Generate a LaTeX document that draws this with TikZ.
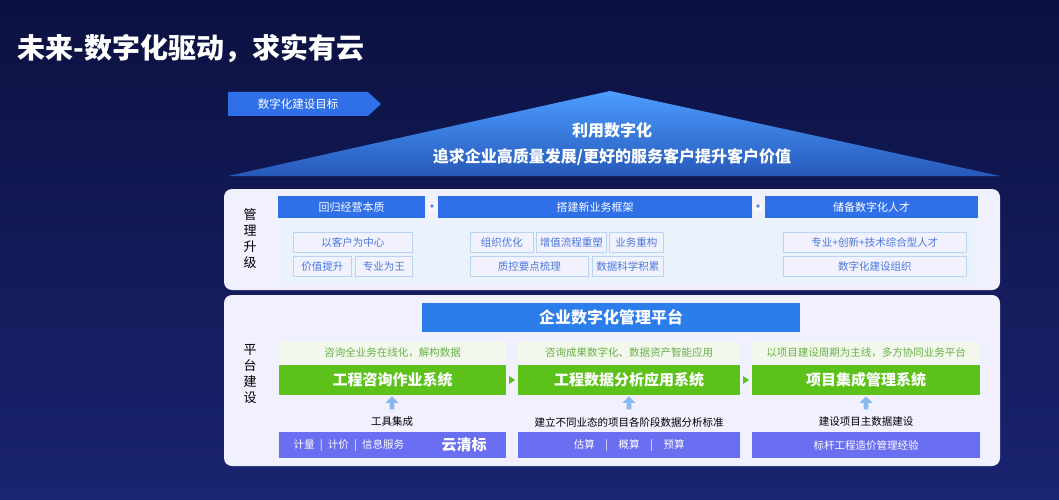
\documentclass[tikz,border=0pt]{standalone}
\usepackage{fontspec}
\setmainfont{Noto Sans CJK SC}
\usetikzlibrary{shapes.arrows,shapes.symbols}
\definecolor{navy}{HTML}{0B1140}
\definecolor{navy2}{HTML}{1A2470}
\definecolor{hblue}{HTML}{2F6FE8}
\definecolor{lblue}{HTML}{EAF2FC}
\definecolor{obox}{HTML}{B9D3F3}
\definecolor{tblue}{HTML}{4A78D8}
\definecolor{gbar}{HTML}{5CC21A}
\definecolor{gtext}{HTML}{6AB04A}
\definecolor{lgreen}{HTML}{F2F9EC}
\definecolor{purp}{HTML}{6A6EF0}
\definecolor{uparr}{HTML}{8AB8F0}
\tikzset{
 panel/.style={fill=white!94!blue, rounded corners=8pt, draw=none},
 hbar/.style={fill=hblue, text=white, font=\fontsize{11}{11}\selectfont, inner sep=0pt, anchor=north west},
 sub/.style={draw=obox, fill=white!95!blue, line width=0.8pt, text=tblue, font=\fontsize{10.5}{11}\selectfont, inner sep=0pt, anchor=north west},
 gb/.style={fill=gbar, text=white, font=\bfseries\fontsize{15}{15}\selectfont, inner sep=0pt, anchor=north west},
 gt/.style={fill=lgreen, text=gtext, font=\fontsize{10.5}{11}\selectfont, inner sep=0pt, anchor=north west},
 pb/.style={fill=purp, text=white, font=\fontsize{10.5}{11}\selectfont, inner sep=0pt, anchor=north west},
 captext/.style={text=black, font=\fontsize{10.5}{11}\selectfont},
 ua/.style={single arrow, shape border rotate=90, fill=uparr, minimum height=13pt, minimum width=13pt, single arrow head extend=2pt, inner sep=1pt},
 vlab/.style={align=center, font=\fontsize{13}{16}\selectfont, text=black},
 plus/.style={circle, fill=white, text=hblue, inner sep=0pt, minimum size=9pt, font=\bfseries\fontsize{8}{8}\selectfont},
}
\begin{document}
\begin{tikzpicture}[x=1pt,y=-1pt]
\useasboundingbox (0,0) rectangle (1059,500);
\shade[top color=navy, bottom color=navy2] (0,0) rectangle (1059,500);
\node[anchor=west, text=white, font=\bfseries\fontsize{28}{28}\selectfont] (title) at (14,48) {未来-数字化驱动，求实有云};
% roof
\shade[top color=blue!55!cyan!70!white, bottom color=hblue!80!black] (228,176) -- (610,91) -- (1000,176) -- cycle;
\node[text=white, font=\bfseries\fontsize{16}{16}\selectfont] (r1) at (612,130) {利用数字化};
\node[text=white, font=\bfseries\fontsize{16}{16}\selectfont] (r2) at (612,157) {追求企业高质量发展/更好的服务客户提升客户价值};
\fill[hblue] (228,92) -- (368,92) -- (381,104) -- (368,116) -- (228,116) -- cycle;
\node[text=white, font=\fontsize{11.5}{12}\selectfont] (tag) at (298,104) {数字化建设目标};
% panel 1
\fill[panel] (224,189) rectangle (1000,290);
\node[vlab] (l1) at (250,239) {管\\理\\升\\级};
\fill[lblue] (278,218) rectangle (978,285);
\node[hbar, minimum width=147pt, minimum height=22pt] (h1) at (278,196) {回归经营本质};
\node[hbar, minimum width=314pt, minimum height=22pt] (h2) at (438,196) {搭建新业务框架};
\node[hbar, minimum width=213pt, minimum height=22pt] (h3) at (765,196) {储备数字化人才};
\node[plus] (p1) at (432,207) {+};
\node[plus] (p2) at (758,207) {+};
\node[sub, minimum width=119pt, minimum height=20pt] (s1) at (293,232) {以客户为中心};
\node[sub, minimum width=58pt, minimum height=20pt] (s2) at (293,256) {价值提升};
\node[sub, minimum width=57pt, minimum height=20pt] (s3) at (355,256) {专业为王};
\node[sub, minimum width=63pt, minimum height=20pt] (s4) at (470,232) {组织优化};
\node[sub, minimum width=70pt, minimum height=20pt] (s5) at (536,232) {增值流程重塑};
\node[sub, minimum width=54pt, minimum height=20pt] (s6) at (609,232) {业务重构};
\node[sub, minimum width=118pt, minimum height=20pt] (s7) at (470,256) {质控要点梳理};
\node[sub, minimum width=71pt, minimum height=20pt] (s8) at (592,256) {数据科学积累};
\node[sub, minimum width=183pt, minimum height=20pt] (s9) at (783,232) {专业+创新+技术综合型人才};
\node[sub, minimum width=183pt, minimum height=20pt] (s10) at (783,256) {数字化建设组织};
% panel 2
\fill[panel] (224,295) rectangle (1000,466);
\node[vlab] (l2) at (250,374) {平\\台\\建\\设};
\node[fill=hblue!90!cyan, text=white, font=\bfseries\fontsize{16}{16}\selectfont, minimum width=378pt, minimum height=29pt, inner sep=0pt, anchor=north west] (plat) at (422,303) {企业数字化管理平台};
% columns
\node[gt, minimum width=227pt, minimum height=20pt] (t1) at (279,342) {咨询全业务在线化，解构数据};
\node[gt, minimum width=222pt, minimum height=20pt] (t2) at (518,342) {咨询成果数字化、数据资产智能应用};
\node[gt, minimum width=228pt, minimum height=20pt] (t3) at (752,342) {以项目建设周期为主线，多方协同业务平台};
\node[gb, minimum width=227pt, minimum height=30pt] (g1) at (279,365) {工程咨询作业系统};
\node[gb, minimum width=222pt, minimum height=30pt] (g2) at (518,365) {工程数据分析应用系统};
\node[gb, minimum width=228pt, minimum height=30pt] (g3) at (752,365) {项目集成管理系统};
\fill[gbar] (509,376) -- (515,380) -- (509,384) -- cycle;
\fill[gbar] (743,376) -- (749,380) -- (743,384) -- cycle;
\node[ua] (u1) at (392,404) {};
\node[ua] (u2) at (629,404) {};
\node[ua] (u3) at (866,404) {};
\node[captext] (c1) at (392,422) {工具集成};
\node[captext] (c2) at (629,422) {建立不同业态的项目各阶段数据分析标准};
\node[captext] (c3) at (866,422) {建设项目主数据建设};
\node[pb, minimum width=227pt, minimum height=26pt] (b1) at (279,432) {};
\node[anchor=west, text=white, font=\fontsize{10.5}{11}\selectfont] (b1t) at (290,445) {计量{\enspace}|{\enspace}计价{\enspace}|{\enspace}信息服务};
\node[anchor=west, text=white, font=\bfseries\fontsize{15}{15}\selectfont] (b1b) at (438,445) {云清标};
\node[pb, minimum width=222pt, minimum height=26pt] (b2) at (518,432) {估算{\quad}|{\quad}概算{\quad}|{\quad}预算};
\node[pb, minimum width=228pt, minimum height=26pt] (b3) at (752,432) {标杆工程造价管理经验};
\end{tikzpicture}
\end{document}
